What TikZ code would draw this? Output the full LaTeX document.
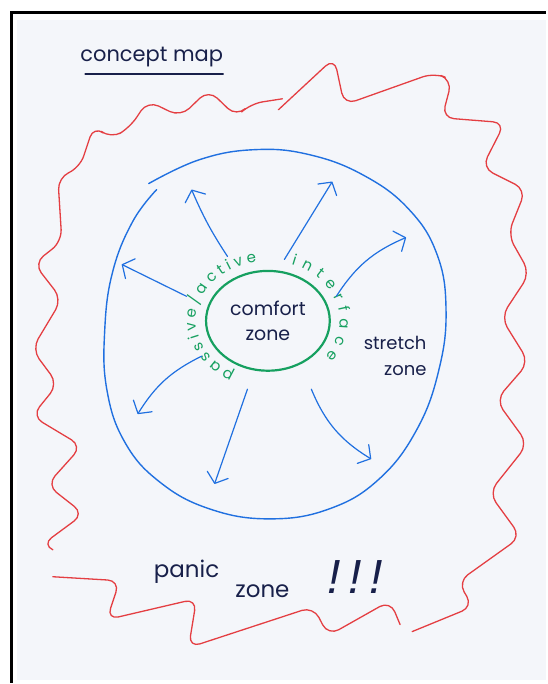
\documentclass[tikz,border=0pt]{standalone}
\usepackage{fontspec}
\setmainfont{Poppins}
\newfontfamily\bangfont{Liberation Sans}
\usetikzlibrary{arrows.meta, shapes.geometric, decorations.text}
\definecolor{cink}{RGB}{24,32,74}
\definecolor{cblue}{RGB}{32,112,224}
\definecolor{cred}{RGB}{228,62,66}
\definecolor{cgreen}{RGB}{22,160,96}
\definecolor{cpaper}{RGB}{244,246,250}
\newcommand{\ifacefont}{\fontsize{15}{15}\selectfont\color{cgreen}}
\tikzset{
  txt/.style={text=cink, inner sep=0pt, align=center},
  zone/.style={draw=cblue, line width=1.4pt, line cap=round, line join=round},
  wave/.style={draw=cred, line width=1.3pt, line cap=round, line join=round, rounded corners=12pt},
  arr/.style={draw=cblue, line width=1.2pt, line cap=round,
              -{Straight Barb[length=9pt, width=22pt, round]}},
  iface/.style={decorate, decoration={text along path, text align=fit to path}},
}

\begin{document}
\begin{tikzpicture}[x=1pt, y=1pt]

% ---------- sheet ----------
\fill[white] (0,0) rectangle (547,-684);
\fill[cpaper] (17,-20) rectangle (547,-681);
\draw[line width=3pt] (11.5,-684) -- (11.5,-12.5) -- (547,-12.5);

% ---------- title ----------
\node[txt, font=\fontsize{21}{21}\selectfont] (title) at (152,-57) {concept map};
\draw[cink, line width=1.6pt, line cap=round]
  ([xshift=5pt, yshift=-7pt]title.south west) -- ([yshift=-7pt]title.south east);

% ---------- panic zone (red) ----------
\draw[wave] (283,-99) -- (251,-104) -- (237,-117) -- (209,-90) -- (181,-117) -- (148,-101)
  -- (130,-128) -- (111,-139) -- (94,-126) -- (80,-168) -- (58,-178) -- (62,-242)
  -- (34,-264) -- (62,-300) -- (32,-350) -- (58,-385) -- (32,-417) -- (82,-447)
  -- (47,-486) -- (84,-515) -- (42,-546) -- (53,-551);
\draw[wave] (279,-110) -- (335,-58) -- (345,-105) -- (435,-73) -- (453,-80) -- (443,-118)
  -- (506,-123) -- (483,-168) -- (527,-190) -- (509,-235) -- (531,-274) -- (502,-318)
  -- (530,-363) -- (497,-401) -- (529,-445) -- (490,-494) -- (522,-538) -- (459,-583)
  -- (474,-608) -- (413,-633);
\draw[wave] (53,-578) -- (120,-582) -- (107,-621) -- (197,-600) -- (189,-649) -- (314,-608)
  -- (329,-637) -- (391,-602) -- (401,-626);

% ---------- stretch zone (blue) ----------
\draw[zone] plot[smooth, tension=0.7] coordinates {
  (149,-184) (200,-160) (255,-150) (310,-155) (365,-176) (410,-210) (438,-255)
  (447,-310) (440,-370) (418,-430) (380,-480) (330,-510) (270,-520) (210,-510)
  (160,-483) (125,-443) (107,-390) (105,-330) (113,-272) (133,-222) (157,-190)};

% ---------- comfort zone ----------
\node[ellipse, draw=cgreen, line width=2.2pt, minimum width=124pt, minimum height=100pt,
      txt, font=\fontsize{19}{25}\selectfont] (comfort) at (268.5,-321.5) {comfort\\zone};

\path[iface, decoration={text={|\ifacefont|passive/active}}]
  (comfort.center) ++(242:72 and 60) arc[start angle=242, end angle=99, x radius=72, y radius=60];
\path[iface, decoration={text={|\ifacefont|interface}}]
  (comfort.center) ++(71:72 and 60) arc[start angle=71, end angle=-37, x radius=72, y radius=60];

% ---------- labels ----------
\node[txt, align=right, font=\fontsize{18}{26}\selectfont] (stretch) at (396,-357) {stretch\\zone};
\node[txt, font=\fontsize{23}{23}\selectfont] (panic) at (187,-573) {panic};
\node[txt, font=\fontsize{23}{23}\selectfont] (panzone) at (263,-592) {zone};
\node[txt, font=\bangfont\itshape\fontsize{48}{48}\selectfont] (bang) at (356,-578) {!\hspace{8pt}!\hspace{8pt}!};

% ---------- arrows out of the comfort zone ----------
\coordinate (s1) at (228,-257); \coordinate (e1) at (192,-190);
\coordinate (s2) at (187,-297); \coordinate (e2) at (122,-265);
\coordinate (s3) at (285,-260); \coordinate (e3) at (333,-182);
\coordinate (s4) at (337,-297); \coordinate (e4) at (407,-238);
\coordinate (s5) at (202,-357); \coordinate (e5) at (138,-415);
\coordinate (s6) at (248,-390); \coordinate (e6) at (215,-485);
\coordinate (s7) at (312,-390); \coordinate (e7) at (372,-460);

\draw[arr] (s1) to[bend left=5] (e1);
\draw[arr] (s2) -- (e2);
\draw[arr] (s3) -- (e3);
\draw[arr] (s4) to[bend left=17] (e4);
\draw[arr] (s5) to[bend right=16] (e5);
\draw[arr] (s6) -- (e6);
\draw[arr] (s7) to[bend right=18] (e7);

\end{tikzpicture}
\end{document}
